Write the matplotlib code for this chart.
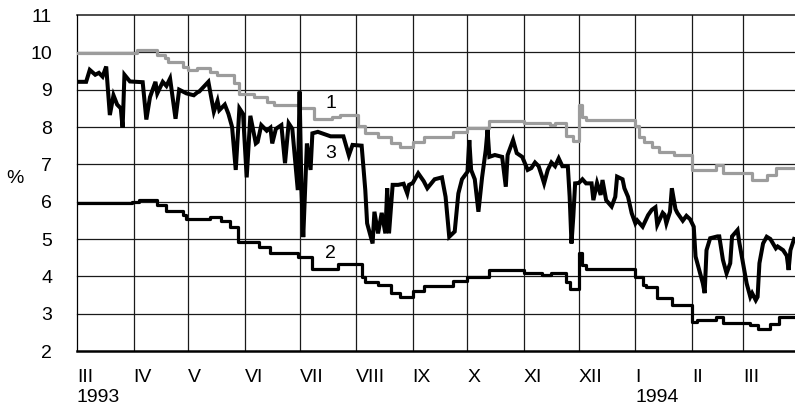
import numpy as np
import pandas as pd
import matplotlib
matplotlib.use("Agg")
import matplotlib.pyplot as plt

plt.rcParams["font.family"] = ["Liberation Sans", "DejaVu Sans"]

START = np.datetime64("1993-03-01")
END_DAY = 393.5

MONTH_LABELS = ["III\n1993", "IV", "V", "VI", "VII", "VIII", "IX", "X",
                "XI", "XII", "I\n1994", "II", "III"]

# series 1: step line, day offset from 1 March 1993 -> value (%)
s1_days = [0, 14, 33, 44, 48, 50, 58, 61, 66, 73, 77, 86, 89, 97, 104, 108,
           122, 130, 140, 144, 154, 158, 165, 172, 177, 184, 190, 206, 214,
           226, 245, 259, 262, 268, 272, 275, 277, 279, 306, 308, 311, 315,
           319, 327, 337, 350, 354, 370, 378, 383, 394]
s1_vals = [9.99, 9.97, 10.06, 9.93, 9.84, 9.75, 9.62, 9.53, 9.59, 9.47, 9.38,
           9.18, 8.88, 8.80, 8.68, 8.59, 8.52, 8.21, 8.28, 8.32, 8.02, 7.83,
           7.74, 7.56, 7.46, 7.60, 7.74, 7.87, 7.98, 8.17, 8.10, 8.05, 8.12,
           7.76, 7.63, 8.59, 8.28, 8.19, 8.02, 7.74, 7.60, 7.47, 7.34, 7.25,
           6.85, 6.98, 6.76, 6.58, 6.71, 6.89, 6.89]

# series 2: step line
s2_days = [0, 30, 34, 44, 49, 58, 60, 73, 79, 84, 88, 100, 106, 121, 129, 143,
           156, 158, 165, 172, 177, 184, 190, 206, 214, 226, 245, 255, 260,
           268, 270, 275, 277, 279, 306, 310, 312, 318, 326, 337, 340, 350,
           354, 369, 373, 380, 385, 394]
s2_vals = [5.96, 6.00, 6.04, 5.91, 5.75, 5.63, 5.53, 5.60, 5.48, 5.32, 4.93,
           4.79, 4.63, 4.53, 4.19, 4.32, 3.99, 3.86, 3.77, 3.55, 3.45, 3.60,
           3.74, 3.88, 3.99, 4.17, 4.10, 4.03, 4.10, 3.86, 3.65, 4.62, 4.30,
           4.20, 3.98, 3.77, 3.71, 3.41, 3.23, 2.78, 2.83, 2.90, 2.76, 2.70,
           2.58, 2.73, 2.92, 2.92]

# series 3: daily quotes
s3_days = [0, 5, 7, 10, 12, 14, 16, 18, 20, 22, 24, 25, 26, 29, 36, 38, 40, 43,
           44, 47, 49, 51, 54, 56, 60, 64, 66, 67, 72, 75, 77, 78, 81, 83, 85,
           87, 89, 91, 93, 95, 98, 99, 101, 104, 106, 107, 109, 112, 114, 116,
           118, 121, 122, 123, 124, 126, 128, 129, 132, 139, 146, 149, 151,
           156, 158, 159, 162, 163, 165, 167, 169, 170, 171, 173, 176, 179,
           181, 182, 184, 187, 190, 192, 196, 200, 202, 204, 207, 209, 211,
           214, 215, 216, 218, 220, 222, 224, 225, 226, 229, 233, 235, 236,
           239, 241, 244, 247, 249, 251, 253, 255, 256, 258, 260, 262, 264,
           266, 269, 270, 271, 272, 273, 275, 277, 279, 282, 283, 285, 287,
           288, 290, 293, 295, 296, 299, 300, 302, 304, 306, 307, 310, 313,
           315, 317, 318, 321, 322, 323, 325, 326, 328, 329, 332, 334, 336,
           338, 339, 341, 343, 344, 345, 347, 351, 352, 354, 356, 358, 359,
           362, 363, 365, 367, 369, 370, 372, 373, 374, 376, 378, 380, 383,
           384, 387, 389, 390, 391, 393]
s3_vals = [9.21, 9.21, 9.53, 9.40, 9.45, 9.35, 9.62, 8.32, 8.85, 8.60, 8.50,
           7.98, 9.40, 9.22, 9.20, 8.20, 8.80, 9.21, 8.90, 9.21, 9.10, 9.30,
           8.22, 9.00, 8.90, 8.85, 8.93, 8.95, 9.21, 8.41, 8.70, 8.45, 8.60,
           8.35, 8.00, 6.85, 8.50, 8.35, 6.65, 8.30, 7.56, 7.60, 8.05, 7.90,
           7.98, 7.56, 7.95, 8.05, 7.03, 8.10, 7.95, 6.31, 8.95, 6.30, 5.05,
           7.56, 6.85, 7.83, 7.87, 7.75, 7.75, 7.24, 7.52, 7.50, 6.31, 5.42,
           4.88, 5.73, 5.15, 5.70, 5.15, 6.36, 5.15, 6.45, 6.45, 6.48, 6.22,
           6.45, 6.50, 6.76, 6.55, 6.36, 6.60, 6.65, 6.13, 5.06, 5.20, 6.22,
           6.60, 6.80, 7.65, 6.85, 6.60, 5.73, 6.65, 7.38, 7.92, 7.20, 7.25,
           7.20, 6.40, 7.25, 7.65, 7.30, 7.20, 6.85, 6.90, 7.05, 6.95, 6.65,
           6.49, 6.85, 7.05, 6.95, 7.16, 6.95, 6.95, 6.13, 4.88, 5.60, 6.49,
           6.50, 6.60, 6.49, 6.49, 6.04, 6.50, 6.18, 6.58, 6.04, 5.87, 6.13,
           6.67, 6.60, 6.36, 6.13, 5.69, 5.42, 5.50, 5.33, 5.64, 5.78, 5.85,
           5.38, 5.70, 5.65, 5.42, 5.73, 6.36, 5.80, 5.70, 5.49, 5.62, 5.53,
           5.33, 4.53, 4.17, 3.81, 3.55, 4.70, 5.02, 5.07, 5.07, 4.44, 4.08,
           4.35, 5.07, 5.24, 4.90, 4.35, 3.81, 3.45, 3.55, 3.36, 3.45, 4.35,
           4.88, 5.06, 5.00, 4.75, 4.80, 4.70, 4.55, 4.17, 4.70, 5.00]


def to_dates(days):
    return START + np.array(days).astype("timedelta64[D]")


fig = plt.figure(figsize=(7.95, 4.11), dpi=100)
ax = fig.add_axes([77 / 795, 60 / 411, 718 / 795, 336 / 411])

month_starts = pd.date_range("1993-03-01", periods=len(MONTH_LABELS), freq="MS")

# grid
for m in month_starts[1:]:
    ax.axvline(m, color="#1a1a1a", lw=0.9, zorder=1)
for y in range(3, 12):
    ax.axhline(y, color="#1a1a1a", lw=1.1 if y == 11 else 0.9, zorder=1,
               clip_on=False)

ax.step(to_dates(s1_days), s1_vals, where="post", color="#9c9c9c", lw=2.3,
        zorder=3)
ax.step(to_dates(s2_days), s2_vals, where="post", color="black", lw=2.3,
        zorder=3)
ax.plot(to_dates(s3_days), s3_vals, color="black", lw=2.9,
        solid_joinstyle="miter", zorder=4)

ax.set_xlim(START, START + np.timedelta64(int(END_DAY * 24), "h"))
ax.set_ylim(2, 11)

for spine in ["top", "right"]:
    ax.spines[spine].set_visible(False)
ax.spines["left"].set_linewidth(0.9)
ax.spines["bottom"].set_linewidth(1.8)

ax.set_yticks(range(2, 12))
ax.tick_params(axis="y", length=0, pad=18, labelsize=14)
ax.set_xticks(month_starts)
ax.set_xticklabels(MONTH_LABELS, ha="left", multialignment="left",
                   linespacing=1.2)
ax.tick_params(axis="x", length=0, pad=13, labelsize=14)

# series numbers
for txt, day, yv in [("1", 139, 8.62), ("3", 139, 7.30), ("2", 139, 4.60)]:
    ax.text(to_dates([day])[0], yv, txt, fontsize=14, ha="center",
            va="center", zorder=5)

fig.text(15 / 795, 1 - 178 / 411, "%", fontsize=14, ha="center",
         va="center")

fig.savefig("out.png", dpi=100)
